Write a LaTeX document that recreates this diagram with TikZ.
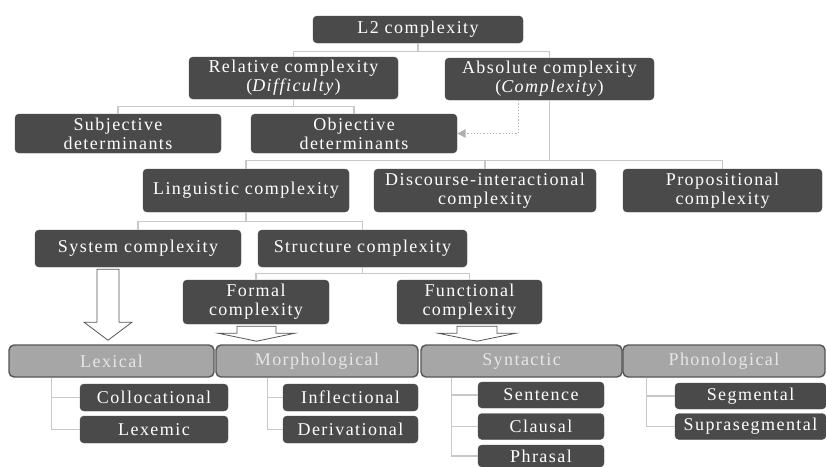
\documentclass[tikz,border=0pt]{standalone}
\usepackage{fontspec}
\setmainfont[LetterSpace=8]{Liberation Serif}
\usepackage{xcolor}
\definecolor{cDark}{HTML}{4A4A4A}
\definecolor{cLight}{HTML}{A6A6A6}
\definecolor{cEdge}{HTML}{555555}
\definecolor{cLine}{HTML}{C8C8C8}
\definecolor{cDash}{HTML}{B0B0B0}
\definecolor{cPale}{HTML}{E6E6E6}
\usepackage{tikz}
\usetikzlibrary{positioning,arrows.meta}
\tikzset{
  node-dark/.style={fill=cDark,draw=cDark,rounded corners=4pt,text=white,
    align=center,inner sep=2pt,font=\fontsize{18}{19}\selectfont},
  node-light/.style={fill=cLight,draw=cEdge,line width=1.4pt,rounded corners=5pt,
    text=cPale,align=center,inner sep=2pt,minimum height=32pt,
    font=\fontsize{18}{19}\selectfont},
  node-sub/.style={node-dark,minimum height=27pt},
  link/.style={draw=cLine,line width=1.2pt},
  link-dash/.style={draw=cDash,line width=1.2pt,dotted,-{Triangle[length=3mm,width=3mm]}},
  arrow-hollow/.style={draw=cEdge,fill=white,line width=0.8pt,line join=miter},
}

\begin{document}
\begin{tikzpicture}[x=1pt,y=-1pt]
  \useasboundingbox (0,0) rectangle (826,466);

  % top levels
  \node[node-dark,minimum width=210pt,minimum height=27pt] (l2) at (418,29.5) {L2 complexity};
  \node[node-dark,minimum width=209pt,minimum height=42pt] (rel) at (293.5,78) {Relative complexity\\(\textit{Difficulty})};
  \node[node-dark,minimum width=209pt,minimum height=42pt] (abs) at (549.5,79) {Absolute complexity\\(\textit{Complexity})};
  \node[node-dark,minimum width=206pt,minimum height=39pt] (subj) at (118,133.5) {Subjective\\determinants};
  \node[node-dark,minimum width=206pt,minimum height=39pt] (obj) at (354,133.5) {Objective\\determinants};

  \draw[link] (l2.south) -- ++(0,8) -| (rel.north);
  \draw[link] (l2.south) -- ++(0,8) -| (abs.north);
  \draw[link] (rel.south) -- ++(0,7) -| (subj.north);
  \draw[link] (rel.south) -- ++(0,7) -| (obj.north);
  \draw[link-dash] ([xshift=-31pt]abs.south) |- (obj.east);

  % kinds of absolute complexity
  \node[node-dark,minimum width=206pt,minimum height=43pt] (ling) at (246,190.5) {Linguistic complexity};
  \node[node-dark,minimum width=222pt,minimum height=43pt] (disc) at (485,190.5) {Discourse-interactional\\complexity};
  \node[node-dark,minimum width=199pt,minimum height=43pt] (prop) at (722.5,190.5) {Propositional\\complexity};

  \draw[link] (abs.south) -- ++(0,60) -| (ling.north);
  \draw[link] (abs.south) -- ++(0,60) -| (disc.north);
  \draw[link] (abs.south) -- ++(0,60) -| (prop.north);

  \node[node-dark,minimum width=206pt,minimum height=37pt] (sys) at (138,248.5) {System complexity};
  \node[node-dark,minimum width=209pt,minimum height=37pt] (struc) at (362.5,248.5) {Structure complexity};
  \node[node-dark,minimum width=146pt,minimum height=44pt] (formal) at (256,302) {Formal\\complexity};
  \node[node-dark,minimum width=145pt,minimum height=44pt] (func) at (469.5,302) {Functional\\complexity};

  \draw[link] (ling.south) -- ++(0,9) -| (sys.north);
  \draw[link] (ling.south) -- ++(0,9) -| (struc.north);
  \draw[link] (struc.south) -- ++(0,6) -| (formal.north);
  \draw[link] (struc.south) -- ++(0,6) -| (func.north);

  % hollow block arrows
  \draw[arrow-hollow] ([xshift=-41pt,yshift=-2pt]sys.south) -- ++(0,53) -- ++(-13,0)
    -- ++(24,18) -- ++(24,-18) -- ++(-13,0) -- ++(0,-53) -- cycle;
  \draw[arrow-hollow] ([xshift=-19pt,yshift=-2pt]formal.south) -- ++(0,7) -- ++(-19,0)
    -- ++(38.5,8) -- ++(38.5,-8) -- ++(-19,0) -- ++(0,-7) -- cycle;
  \draw[arrow-hollow] ([xshift=-12.5pt,yshift=-2pt]func.south) -- ++(0,7) -- ++(-19,0)
    -- ++(39,8) -- ++(39,-8) -- ++(-19,0) -- ++(0,-7) -- cycle;

  % domains
  \node[node-light,minimum width=205pt] (lex) at (111.5,361) {Lexical};
  \node[node-light,minimum width=202pt] (morph) at (317,361) {Morphological};
  \node[node-light,minimum width=201pt] (synt) at (521.5,361) {Syntactic};
  \node[node-light,minimum width=202pt] (phon) at (724,361) {Phonological};

  \node[node-sub,minimum width=148pt] (coll) at (154,397.5) {Collocational};
  \node[node-sub,minimum width=148pt] (lexm) at (154,429.5) {Lexemic};
  \node[node-sub,minimum width=135pt] (infl) at (350.5,397.5) {Inflectional};
  \node[node-sub,minimum width=135pt] (deriv) at (350.5,429.5) {Derivational};
  \node[node-sub,minimum width=126pt,minimum height=26pt] (sent) at (541,395) {Sentence};
  \node[node-sub,minimum width=126pt,minimum height=26pt] (claus) at (541,426.5) {Clausal};
  \node[node-sub,minimum width=126pt,minimum height=22pt] (phras) at (541,456) {Phrasal};
  \node[node-sub,minimum width=151pt,minimum height=26pt] (seg) at (750.5,396) {Segmental};
  \node[node-sub,minimum width=151pt,minimum height=26pt] (supra) at (750.5,426.5) {Suprasegmental};

  \draw[link] ([xshift=43pt]lex.south west) |- (coll.west);
  \draw[link] ([xshift=43pt]lex.south west) |- (lexm.west);
  \draw[link] ([xshift=52pt]morph.south west) |- (infl.west);
  \draw[link] ([xshift=52pt]morph.south west) |- (deriv.west);
  \draw[link] ([xshift=31pt]synt.south west) |- (sent.west);
  \draw[link] ([xshift=31pt]synt.south west) |- (claus.west);
  \draw[link] ([xshift=31pt]synt.south west) |- (phras.west);
  \draw[link] ([xshift=24pt]phon.south west) |- (seg.west);
  \draw[link] ([xshift=24pt]phon.south west) |- (supra.west);
\end{tikzpicture}
\end{document}
